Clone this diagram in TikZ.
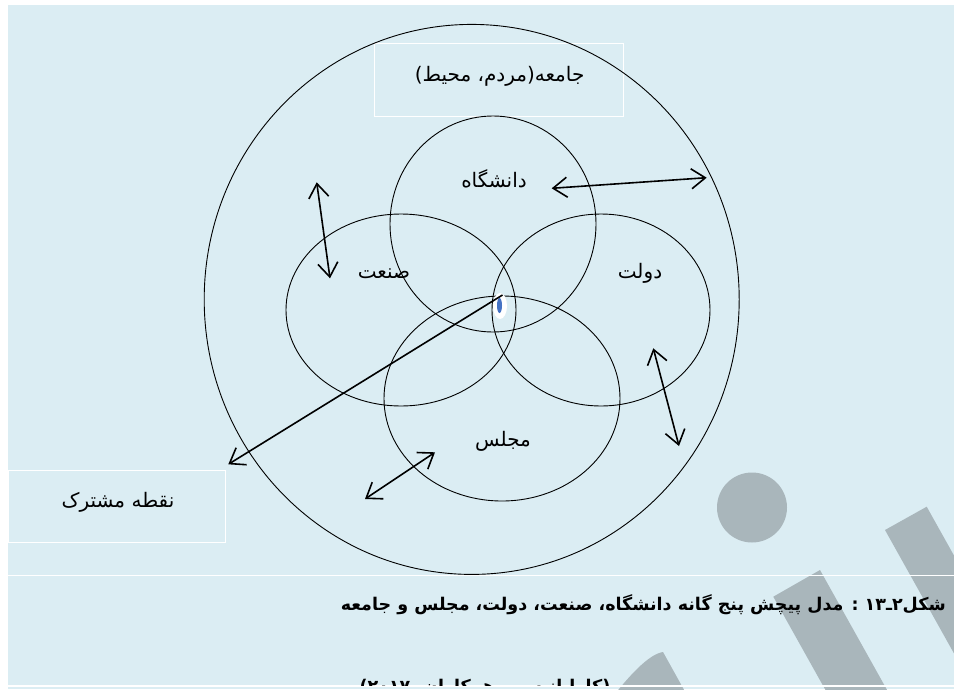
\documentclass[tikz,border=0pt]{standalone}
\usepackage{fontspec}
\usetikzlibrary{arrows.meta,shapes.geometric}
\newfontfamily\arabicfont[Script=Arabic]{DejaVu Sans}
\TeXXeTstate=1
\definecolor{bgblue}{RGB}{219,237,243}
\definecolor{wmgrey}{RGB}{169,182,187}
\definecolor{markblue}{RGB}{68,114,196}
\begin{document}
\begin{tikzpicture}[x=1pt,y=-1pt,
  ring/.style={draw=black, line width=0.9pt, ellipse, inner sep=0pt, outer sep=0pt},
  wbox/.style={draw=white, line width=0.9pt, rectangle, inner sep=0pt},
  lbl/.style={font=\arabicfont\fontsize{20}{24}\selectfont, inner sep=0pt},
  dbl/.style={line width=1.6pt, {Straight Barb[length=14pt,width=20pt]}-{Straight Barb[length=14pt,width=20pt]}},
  sgl/.style={line width=1.6pt, -{Straight Barb[length=14pt,width=20pt]}}]
\useasboundingbox (0,0) rectangle (954,689);
\fill[white] (0,0) rectangle (954,689);
\fill[bgblue] (8,5) rectangle (954,689);
% watermark
\begin{scope}
\clip (8,5) rectangle (954,689);
\fill[wmgrey] (752,507.5) circle[radius=35pt];
\fill[wmgrey] (885,530) -- (926.7,506.7) -- (1073.1,768.6) -- (1031.4,791.9) -- cycle;
\fill[wmgrey] (773.3,596.7) -- (820,570) -- (966.4,831.9) -- (919.7,858.6) -- cycle;
\fill[wmgrey] (612,697) -- (619,689) .. controls (633,672) and (650,654) .. (663,652) -- (688,697) -- cycle;
\end{scope}
% white rules
\draw[white, line width=1.5pt] (8,575.5) -- (954,575.5);
\draw[white, line width=1.5pt] (8,686) -- (954,686);
% boxes
\node[wbox, minimum width=249pt, minimum height=73pt] (topbox) at (498.5,79.5) {};
\node[wbox, minimum width=217pt, minimum height=72pt] (leftbox) at (116.5,506) {};
% circles
\node[ring, minimum width=535pt, minimum height=550pt] (society) at (471.7,299.4) {};
\node[ring, minimum width=206pt, minimum height=216pt] (uni) at (493,224) {};
\node[ring, minimum width=230pt, minimum height=192pt] (ind) at (401,310) {};
\node[ring, minimum width=218pt, minimum height=192pt] (gov) at (601,310) {};
\node[ring, minimum width=236pt, minimum height=205pt] (parl) at (502,398.5) {};
% common point mark
\node[ellipse, fill=white, inner sep=0pt, minimum width=14pt, minimum height=26pt] (common) at (500,306) {};
\node[ellipse, fill=markblue, inner sep=0pt, minimum width=5pt, minimum height=15pt] (commonin) at (499.5,305.5) {};
% arrow ends
\coordinate (a1s) at (551.7,188.3);
\coordinate (a1e) at (706.7,177.7);
\coordinate (a2s) at (316.7,182.3);
\coordinate (a2e) at (330,278.3);
\coordinate (a3s) at (653.3,348.3);
\coordinate (a3e) at (679,446);
\coordinate (a4s) at (435,452.3);
\coordinate (a4e) at (365,499);
\coordinate (cstart) at (502.5,295);
\coordinate (cend) at (228.3,464.3);
\draw[dbl] (a1s) -- (a1e);
\draw[dbl] (a2s) -- (a2e);
\draw[dbl] (a3s) -- (a3e);
\draw[dbl] (a4s) -- (a4e);
\draw[sgl] (cstart) -- (cend);
% labels
\node[lbl] (tsociety) at (499.6,76) {\beginR جامعه(مردم، محیط)\endR};
\node[lbl] (tuni) at (494,179) {\beginR دانشگاه\endR};
\node[lbl] (tind) at (384,273.5) {\beginR صنعت\endR};
\node[lbl] (tgov) at (640,273.5) {\beginR دولت\endR};
\node[lbl] (tparl) at (503,441) {\beginR مجلس\endR};
\node[lbl] (tcommon) at (118,502) {\beginR نقطه مشترک\endR};
% caption
\node[anchor=east, inner sep=0pt, font=\arabicfont\bfseries\fontsize{17.5}{21}\selectfont] (caption) at (946,605) {\beginR شکل۲ـ۱۳ : مدل پیچش پنج گانه دانشگاه، صنعت، دولت، مجلس و جامعه\endR};
\begin{scope}
\clip (0,0) rectangle (954,685);
\node[anchor=base, inner sep=0pt, font=\arabicfont\bfseries\fontsize{17.5}{21}\selectfont] (source) at (485,692) {\beginR (کارایانیس و همکاران، ۲۰۱۷)\endR};
\end{scope}
\end{tikzpicture}
\end{document}
